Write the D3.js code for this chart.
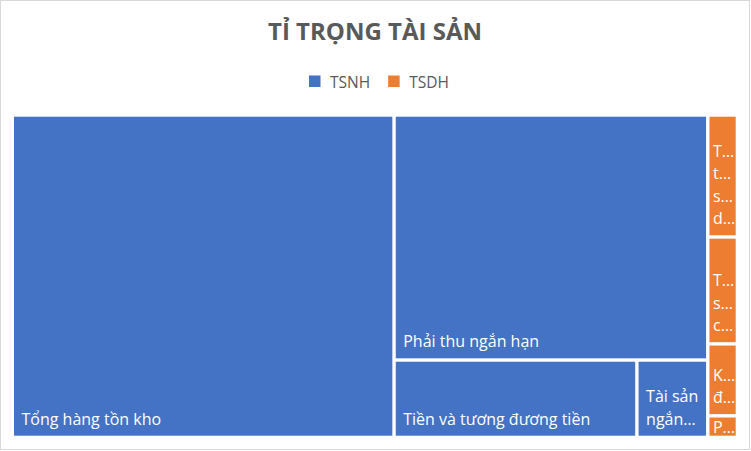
<!DOCTYPE html>
<html>
<head>
<meta charset="utf-8">
<script src="https://cdn.jsdelivr.net/npm/d3@7"></script>
<style>
  body { margin: 0; background: #fff; }
  svg { display: block; font-family: "Open Sans", sans-serif; }
</style>
</head>
<body>
<div id="chart"></div>
<script>
// Data (relative sizes)
const groups = ["TSNH", "TSDH"];
const groupColors = ["#4472C4", "#ED7D31"];

const itemNames = [
  "Tổng hàng tồn kho",
  "Phải thu ngắn hạn",
  "Tiền và tương đương tiền",
  "Tài sản ngắn hạn khác",
  "Tổng tài sản dài hạn khác",
  "Tài sản cố định",
  "Khoản đầu tư tài chính dài hạn",
  "Phải thu dài hạn"
];
const itemGroups = ["TSNH", "TSNH", "TSNH", "TSNH", "TSDH", "TSDH", "TSDH", "TSDH"];
const itemValues = [1212, 757, 185, 54, 35.6, 31.2, 21.0, 6.3];

const W = 751, H = 451;
const svg = d3.select("#chart").append("svg")
  .attr("width", W)
  .attr("height", H);

// chart border
svg.append("rect")
  .attr("x", 0.5).attr("y", 0.5)
  .attr("width", 749).attr("height", 449)
  .attr("fill", "#fff")
  .attr("stroke", "#d9d9d9");

// Title
svg.append("text")
  .attr("x", 375)
  .attr("y", 39.5)
  .attr("text-anchor", "middle")
  .attr("font-size", 24)
  .attr("font-weight", "bold")
  .attr("fill", "#595959")
  .text("TỈ TRỌNG TÀI SẢN");

// Legend
const legend = svg.append("g");
let lx = 309;
groups.forEach((g, i) => {
  legend.append("rect")
    .attr("x", lx).attr("y", 75.5)
    .attr("width", 11.5).attr("height", 11.5)
    .attr("fill", groupColors[i]);
  const t = legend.append("text")
    .attr("x", lx + 21)
    .attr("y", 87.5)
    .attr("font-size", 15.5)
    .attr("fill", "#595959")
    .text(g);
  lx += 21 + t.node().getComputedTextLength() + 18;
});

const color = d3.scaleOrdinal().domain(groups).range(groupColors);

// Build hierarchy from the arrays
const data = {
  name: "root",
  children: groups.map(g => ({
    name: g,
    children: itemNames
      .map((n, i) => ({ name: n, group: itemGroups[i], value: itemValues[i] }))
      .filter(d => d.group === g)
  }))
};

const root = d3.hierarchy(data)
  .sum(d => d.value || 0)
  .sort((a, b) => b.value - a.value);

const x0 = 14, y0 = 116.7, x1 = 735.7, y1 = 435.7;
d3.treemap()
  .tile(d3.treemapSquarify.ratio(1))
  .size([x1 - x0, y1 - y0])
  .paddingInner(3.4)
  .round(false)(root);

const plot = svg.append("g").attr("transform", `translate(${x0},${y0})`);

const leaf = plot.selectAll("g")
  .data(root.leaves())
  .join("g")
  .attr("transform", d => `translate(${d.x0},${d.y0})`);

leaf.append("rect")
  .attr("width", d => d.x1 - d.x0)
  .attr("height", d => d.y1 - d.y0)
  .attr("fill", d => color(d.data.group));

// clip labels vertically only
leaf.append("clipPath")
  .attr("id", (d, i) => "clip" + i)
  .append("rect")
  .attr("width", d => d.x1 - d.x0 + 8)
  .attr("height", d => d.y1 - d.y0);

// Label wrapping, Excel-like: wrap by word, cut long words with an ellipsis,
// keep as many lines as fit and put the block at the bottom of the cell
const lineH = 22.5;
const ELL = "\u2026";

leaf.each(function(d, idx) {
  const g = d3.select(this);
  const w = d.x1 - d.x0, h = d.y1 - d.y0;
  const padX = w < 40 ? 3.5 : 7.5;
  const aw = w - 15;
  const probe = g.append("text").attr("font-size", 16);
  const measure = s => { probe.text(s); return probe.node().getComputedTextLength(); };
  const cut = s => {
    if (measure(s) <= aw) return s;
    let k = s.length - 1;
    while (k > 1 && measure(s.slice(0, k) + ELL) > aw) k--;
    return s.slice(0, Math.max(1, k)) + ELL;
  };

  const words = d.data.name.split(" ");
  const lines = [];
  let line = "";
  words.forEach(wd => {
    if (line && measure(line + " " + wd) <= aw) {
      line += " " + wd;
    } else {
      if (line) lines.push(line);
      line = measure(wd) <= aw ? wd : null;
      if (line === null) { lines.push(cut(wd)); line = ""; }
    }
  });
  if (line) lines.push(line);

  const maxLines = Math.max(1, Math.floor((h - 20) / lineH));
  const shown = lines.slice(0, maxLines);
  if (lines.length > maxLines) {
    let s = shown[shown.length - 1];
    if (!s.endsWith(ELL)) {
      while (s.length > 1 && measure(s + ELL) > aw) s = s.slice(0, -1).trimEnd();
      shown[shown.length - 1] = s + ELL;
    }
  }
  probe.remove();

  // very short cells: centre the single line, otherwise sit on the bottom
  const baseY = h < 30 ? h / 2 + 6 : h - 11;
  g.append("text")
    .attr("clip-path", `url(#clip${idx})`)
    .attr("font-size", 16)
    .attr("fill", "#fff")
    .selectAll("tspan")
    .data(shown)
    .join("tspan")
    .attr("x", padX)
    .attr("y", (s, i) => baseY - (shown.length - 1 - i) * lineH)
    .text(s => s);
});
</script>
</body>
</html>
